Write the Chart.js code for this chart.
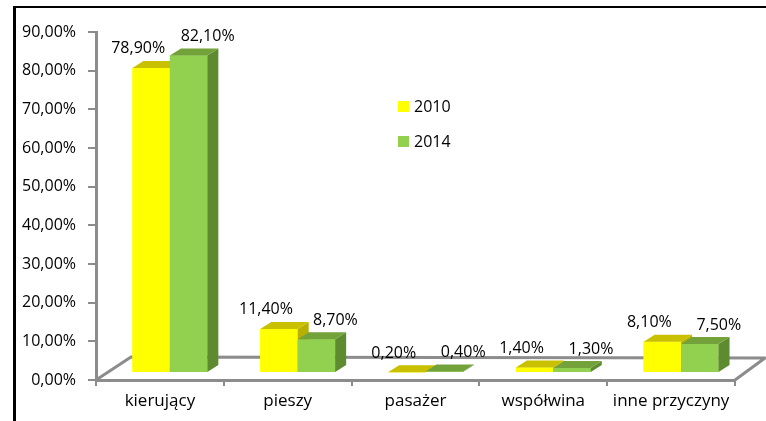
<!DOCTYPE html>
<html>
<head>
<meta charset="utf-8">
<script src="https://cdn.jsdelivr.net/npm/chart.js@4.4.0/dist/chart.umd.min.js"></script>
<style>
html, body { margin: 0; padding: 0; background: #fff; }
#wrap { position: relative; width: 766px; height: 421px; overflow: hidden; }
#frame { position: absolute; left: 13px; top: 6px; right: -5px; bottom: -5px;
         border-left: 3px solid #000; border-top: 2px solid #000; pointer-events: none; }
</style>
</head>
<body>
<div id="wrap">
  <canvas id="myChart" width="766" height="421"></canvas>
  <div id="frame"></div>
</div>
<script>
// data (percent)
var categories = ['kierujący', 'pieszy', 'pasażer', 'współwina', 'inne przyczyny'];
var seriesNames = ['2010', '2014'];
var values2010 = [78.9, 11.4, 0.2, 1.4, 8.1];
var values2014 = [82.1, 8.7, 0.4, 1.3, 7.5];
var yMax = 90;
var yStep = 10;

// fake 3d look
var SHIFT_X = 10, SHIFT_Y = -7;     // bar fronts sit a bit inside the floor
var DEPTH_X = 11, DEPTH_Y = -7;     // bar depth
var LABEL_SHIFT = [-13, 19];        // where Excel put the value labels

function pct(v) {
    return v.toFixed(2).replace('.', ',') + '%';
}

// draws one bar as a box: front, right side, top
function drawBox(ctx, bar, ds) {
    var l = bar.x - bar.width / 2, r = bar.x + bar.width / 2;
    var t = bar.y, b = bar.base;
    ctx.fillStyle = ds.backgroundColor;
    ctx.fillRect(l, t, r - l, b - t);
    ctx.fillStyle = ds.sideColor;
    ctx.beginPath();
    ctx.moveTo(r, b);
    ctx.lineTo(r, t);
    ctx.lineTo(r + DEPTH_X, t + DEPTH_Y);
    ctx.lineTo(r + DEPTH_X, b + DEPTH_Y);
    ctx.closePath();
    ctx.fill();
    ctx.fillStyle = ds.topColor;
    ctx.beginPath();
    ctx.moveTo(l, t);
    ctx.lineTo(r, t);
    ctx.lineTo(r + DEPTH_X, t + DEPTH_Y);
    ctx.lineTo(l + DEPTH_X, t + DEPTH_Y);
    ctx.closePath();
    ctx.fill();
}

var bars3d = {
    id: 'bars3d',
    beforeDatasetsDraw: function (chart) {
        var ctx = chart.ctx, a = chart.chartArea;
        // floor
        ctx.save();
        ctx.strokeStyle = '#8c8c8c';
        ctx.lineWidth = 3;
        ctx.lineJoin = 'round';
        ctx.beginPath();
        ctx.moveTo(a.left, a.bottom);
        ctx.lineTo(a.left + 35, a.bottom - 23);
        ctx.lineTo(a.right + 30, a.bottom - 22);
        ctx.lineTo(a.right, a.bottom);
        ctx.stroke();
        ctx.restore();

        ctx.save();
        ctx.translate(SHIFT_X, SHIFT_Y);
    },
    afterDatasetsDraw: function (chart) {
        var ctx = chart.ctx;
        var sets = chart.data.datasets;
        // paint boxes left to right so each one hides the side of the previous
        categories.forEach(function (c, j) {
            sets.forEach(function (ds, i) {
                drawBox(ctx, chart.getDatasetMeta(i).data[j], ds);
            });
        });
        ctx.restore();

        // value labels
        ctx.save();
        ctx.font = '16px "Open Sans"';
        ctx.fillStyle = '#000';
        ctx.textAlign = 'center';
        ctx.textBaseline = 'middle';
        sets.forEach(function (ds, i) {
            chart.getDatasetMeta(i).data.forEach(function (bar, j) {
                ctx.fillText(pct(ds.data[j]), bar.x + SHIFT_X + LABEL_SHIFT[i], bar.y + SHIFT_Y - 19);
            });
        });
        ctx.restore();
    },
    afterDraw: function (chart) {
        // legend inside the plot
        var ctx = chart.ctx;
        ctx.save();
        ctx.font = '16px "Open Sans"';
        ctx.textBaseline = 'middle';
        ctx.textAlign = 'left';
        chart.data.datasets.forEach(function (ds, i) {
            var y = 106 + i * 35;
            ctx.fillStyle = ds.backgroundColor;
            ctx.fillRect(398, y - 5, 11, 11);
            ctx.fillStyle = '#000';
            ctx.fillText(ds.label, 414, y + 1);
        });
        ctx.restore();
    }
};

Chart.defaults.font.family = '"Open Sans"';
Chart.defaults.font.size = 16;
Chart.defaults.color = '#000';

var ctx = document.getElementById('myChart').getContext('2d');
var chart = new Chart(ctx, {
    type: 'bar',
    data: {
        labels: categories,
        datasets: [{
            label: seriesNames[0],
            data: values2010,
            backgroundColor: '#ffff00',
            topColor: '#c8c000',
            sideColor: '#b8b000'
        }, {
            label: seriesNames[1],
            data: values2014,
            backgroundColor: '#92d050',
            topColor: '#74a23a',
            sideColor: '#5e8a30'
        }]
    },
    options: {
        responsive: false,
        animation: false,
        clip: false,
        layout: { padding: { top: 32, right: 31, bottom: 0, left: 0 } },
        datasets: {
            bar: { categoryPercentage: 0.586, barPercentage: 1, borderWidth: 0 }
        },
        plugins: {
            legend: { display: false },
            tooltip: { enabled: false }
        },
        scales: {
            x: {
                grid: { drawOnChartArea: false, drawTicks: true, tickLength: 6, color: '#8c8c8c', lineWidth: 2, offset: true },
                border: { color: '#8c8c8c', width: 3 },
                ticks: { padding: 5, font: { size: 17 } },
                afterFit: function (s) { s.height = 41; }
            },
            y: {
                min: 0,
                max: yMax,
                grid: { drawOnChartArea: false, drawTicks: true, tickLength: 8, color: '#8c8c8c', lineWidth: 2 },
                border: { color: '#8c8c8c', width: 3 },
                ticks: {
                    stepSize: yStep,
                    padding: 12,
                    callback: function (v) { return pct(v); }
                },
                afterFit: function (s) { s.width = 96; }
            }
        }
    },
    plugins: [bars3d]
});
</script>
</body>
</html>
